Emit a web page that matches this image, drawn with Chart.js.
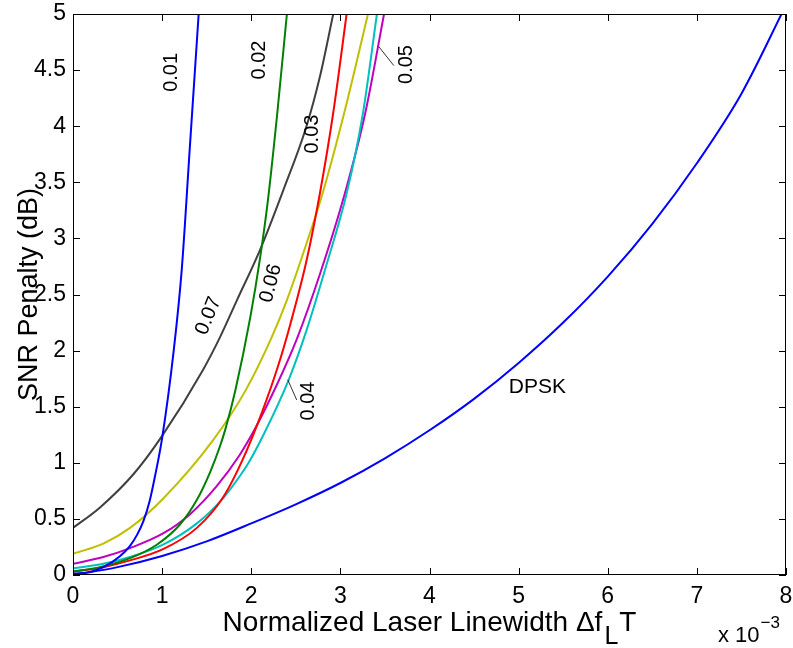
<!DOCTYPE html>
<html>
<head>
<meta charset="utf-8">
<script src="https://cdn.jsdelivr.net/npm/chart.js@4.4.1/dist/chart.umd.min.js"></script>
<style>
  html, body { margin: 0; padding: 0; background: #fff; }
</style>
</head>
<body>
<canvas id="chartPenalty" width="793" height="648"></canvas>
<script>
// ticks
const xTicks = [0, 1, 2, 3, 4, 5, 6, 7, 8];
const yTicks = [0, 0.5, 1, 1.5, 2, 2.5, 3, 3.5, 4, 4.5, 5];

// curvas (x en unidades de 1e-3, y en dB)
const c01X = [0, 0.2, 0.34, 0.53, 0.64, 0.72, 0.79, 0.86, 0.92, 1.0, 1.13, 1.22, 1.31, 1.41];
const c01Y = [0.01, 0.03, 0.07, 0.17, 0.26, 0.36, 0.48, 0.66, 0.88, 1.22, 2.00, 2.72, 3.80, 5.0];

const c02X = [0, 0.3, 0.64, 0.94, 1.20, 1.39, 1.54, 1.65, 1.71, 1.82, 1.99, 2.10, 2.19, 2.29, 2.40];
const c02Y = [0.03, 0.07, 0.15, 0.27, 0.45, 0.67, 0.92, 1.15, 1.30, 1.64, 2.30, 2.83, 3.36, 4.10, 5.0];

const c03X = [0, 0.34, 0.64, 1.01, 1.39, 1.69, 1.91, 2.12, 2.30, 2.44, 2.62, 2.77, 2.92, 3.07];
const c03Y = [0.03, 0.07, 0.13, 0.23, 0.42, 0.70, 1.04, 1.45, 1.86, 2.24, 2.80, 3.40, 4.12, 5.0];

const c04X = [0, 0.34, 0.64, 1.01, 1.39, 1.69, 1.87, 1.97, 2.15, 2.42, 2.62, 2.85, 3.07, 3.25, 3.41];
const c04Y = [0.06, 0.10, 0.16, 0.27, 0.46, 0.69, 0.88, 1.00, 1.27, 1.74, 2.18, 2.78, 3.40, 4.10, 5.0];

const c05X = [0, 0.34, 0.64, 1.01, 1.31, 1.61, 1.87, 2.06, 2.29, 2.51, 2.77, 3.05, 3.28, 3.49];
const c05Y = [0.10, 0.16, 0.24, 0.37, 0.54, 0.79, 1.07, 1.33, 1.70, 2.10, 2.68, 3.40, 4.12, 5.0];

const c06X = [0, 0.34, 0.64, 1.01, 1.57, 1.94, 2.23, 2.40, 2.66, 2.80, 3.05, 3.31];
const c06Y = [0.19, 0.28, 0.42, 0.68, 1.20, 1.65, 2.12, 2.45, 3.05, 3.40, 4.14, 5.0];

const c07X = [0, 0.30, 0.68, 1.0, 1.46, 1.65, 1.84, 2.10, 2.36, 2.62, 2.77, 2.92];
const c07Y = [0.42, 0.60, 0.90, 1.24, 1.83, 2.12, 2.45, 2.90, 3.43, 4.00, 4.44, 5.0];

const dpskX = [0, 0.5, 1, 1.5, 2, 2.5, 3, 3.5, 4, 4.5, 5, 5.5, 6, 6.5, 7, 7.5, 8];
const dpskY = [0, 0.07, 0.17, 0.30, 0.46, 0.63, 0.82, 1.04, 1.29, 1.57, 1.89, 2.25, 2.66, 3.13, 3.67, 4.29, 5.08];

// etiquetas sobre las curvas (en coordenadas de datos)
const etiquetas = [
    { texto: '0.01', x: 1.11, y: 4.48, ang: -90 },
    { texto: '0.02', x: 2.09, y: 4.59, ang: -90 },
    { texto: '0.03', x: 2.69, y: 3.93, ang: -90 },
    { texto: '0.05', x: 3.74, y: 4.55, ang: -90 },
    { texto: '0.06', x: 2.22, y: 2.60, ang: -75 },
    { texto: '0.07', x: 1.52, y: 2.31, ang: -68 },
    { texto: '0.04', x: 2.64, y: 1.55, ang: -90 },
    { texto: 'DPSK', x: 5.21, y: 1.67, ang: 0 }
];
const guias = [
    [3.43, 4.71, 3.60, 4.54],
    [2.41, 1.74, 2.51, 1.56]
];

const FUENTE = '"Liberation Sans", Arial, Helvetica, sans-serif';

const toPoints = (xs, ys) => xs.map((v, i) => ({ x: v, y: ys[i] }));

const serie = (xs, ys, color) => ({
    data: toPoints(xs, ys),
    borderColor: color,
    borderWidth: 2,
    pointRadius: 0,
    fill: false,
    cubicInterpolationMode: 'monotone'
});

const marco = {
    id: 'marco',
    afterDraw(chart) {
        const { ctx, chartArea: a, scales } = chart;
        const sx = scales.x, sy = scales.y;
        ctx.save();
        ctx.strokeStyle = '#000';
        ctx.lineWidth = 1;
        ctx.strokeRect(a.left + 0.5, a.top + 0.5, a.right - a.left - 1, a.bottom - a.top - 1);

        ctx.beginPath();
        xTicks.forEach(v => {
            const px = Math.round(sx.getPixelForValue(v)) + 0.5;
            ctx.moveTo(px, a.bottom); ctx.lineTo(px, a.bottom - 7);
            ctx.moveTo(px, a.top); ctx.lineTo(px, a.top + 7);
        });
        yTicks.forEach(v => {
            const py = Math.round(sy.getPixelForValue(v)) + 0.5;
            ctx.moveTo(a.left, py); ctx.lineTo(a.left + 7, py);
            ctx.moveTo(a.right, py); ctx.lineTo(a.right - 7, py);
        });
        ctx.stroke();

        // lineas guia
        ctx.lineWidth = 0.8;
        ctx.beginPath();
        guias.forEach(g => {
            ctx.moveTo(sx.getPixelForValue(g[0]), sy.getPixelForValue(g[1]));
            ctx.lineTo(sx.getPixelForValue(g[2]), sy.getPixelForValue(g[3]));
        });
        ctx.stroke();

        // etiquetas
        ctx.fillStyle = '#000';
        ctx.textAlign = 'center';
        ctx.textBaseline = 'middle';
        etiquetas.forEach(e => {
            ctx.save();
            ctx.translate(sx.getPixelForValue(e.x), sy.getPixelForValue(e.y));
            ctx.rotate(e.ang * Math.PI / 180);
            ctx.font = (e.texto === 'DPSK' ? '21px ' : '20px ') + FUENTE;
            ctx.fillText(e.texto, 0, 0);
            ctx.restore();
        });

        // titulo eje y
        ctx.save();
        ctx.font = '27px ' + FUENTE;
        ctx.textBaseline = 'alphabetic';
        ctx.translate(37, (a.top + a.bottom) / 2);
        ctx.rotate(-Math.PI / 2);
        ctx.fillText('SNR Penalty (dB)', 0, 0);
        ctx.restore();

        // titulo eje x con subindice
        ctx.textBaseline = 'alphabetic';
        ctx.textAlign = 'left';
        const t1 = 'Normalized Laser Linewidth \u0394f', t2 = 'L', t3 = 'T';
        ctx.font = '28px ' + FUENTE;
        const w1 = ctx.measureText(t1).width;
        const w3 = ctx.measureText(t3).width;
        ctx.font = '25px ' + FUENTE;
        const w2 = ctx.measureText(t2).width;
        const total = w1 + w2 + 3 + w3;
        const x0 = (a.left + a.right) / 2 - total / 2;
        const base = 631;
        ctx.font = '28px ' + FUENTE;
        ctx.fillText(t1, x0, base);
        ctx.font = '25px ' + FUENTE;
        ctx.fillText(t2, x0 + w1 + 2, base + 13);
        ctx.font = '28px ' + FUENTE;
        ctx.fillText(t3, x0 + w1 + w2 + 3, base);

        // multiplicador
        ctx.font = '22px ' + FUENTE;
        ctx.fillText('x 10', 718, 642);
        const wm = ctx.measureText('x 10').width;
        ctx.font = '17px ' + FUENTE;
        ctx.fillText('\u22123', 718 + wm + 1, 628);
        ctx.restore();
    }
};

const canvas = document.getElementById('chartPenalty');
const context = canvas.getContext('2d');

const chartPenalty = new Chart(context, {
    type: 'line',
    data: {
        datasets: [
            serie(c01X, c01Y, '#0000ff'),
            serie(c02X, c02Y, '#008000'),
            serie(c03X, c03Y, '#ff0000'),
            serie(c04X, c04Y, '#00bfbf'),
            serie(c05X, c05Y, '#bf00bf'),
            serie(c06X, c06Y, '#bfbf00'),
            serie(c07X, c07Y, '#404040'),
            serie(dpskX, dpskY, '#0000ff')
        ]
    },
    options: {
        responsive: false,
        animation: false,
        events: [],
        layout: { padding: { top: 14, right: 7, left: 0, bottom: 0 } },
        plugins: { legend: { display: false }, tooltip: { enabled: false } },
        scales: {
            x: {
                type: 'linear',
                min: 0, max: 8,
                afterFit: s => { s.height = 73; s.paddingLeft = 0; s.paddingRight = 0; },
                afterBuildTicks: s => { s.ticks = xTicks.map(v => ({ value: v })); },
                grid: { display: false, drawTicks: false },
                border: { display: false },
                ticks: { padding: 8, color: '#000', font: { family: FUENTE, size: 23 }, maxRotation: 0, autoSkip: false }
            },
            y: {
                type: 'linear',
                min: 0, max: 5,
                afterFit: s => { s.width = 73; s.paddingTop = 0; s.paddingBottom = 0; },
                afterBuildTicks: s => { s.ticks = yTicks.map(v => ({ value: v })); },
                grid: { display: false, drawTicks: false },
                border: { display: false },
                ticks: { padding: 7, color: '#000', font: { family: FUENTE, size: 23 }, autoSkip: false,
                    callback: v => String(v) }
            }
        }
    },
    plugins: [marco]
});
</script>
</body>
</html>
